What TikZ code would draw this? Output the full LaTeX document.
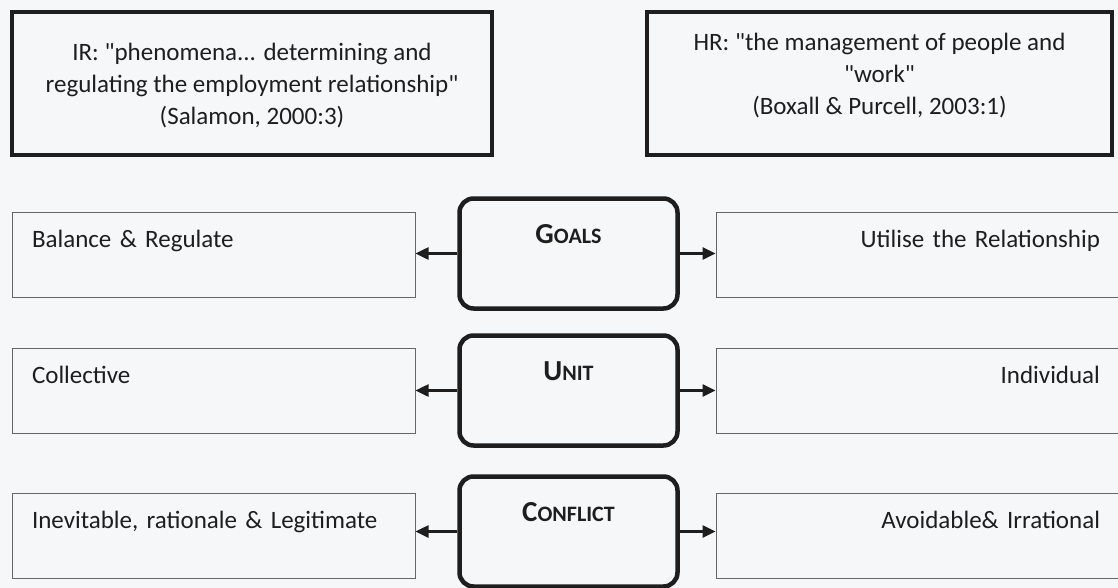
\documentclass[tikz,border=0pt]{standalone}
\usepackage{fontspec}
\setmainfont{Carlito}[Ligatures=TeXOff]
\usetikzlibrary{arrows.meta}
\definecolor{paper}{RGB}{246,247,249}
\definecolor{ink}{RGB}{30,30,30}
\newcommand{\capsword}[2]{{\fontsize{29}{32}\selectfont #1}{\fontsize{22}{24}\selectfont #2}}
\tikzset{
  defbox/.style={draw=ink, line width=4.5pt, inner sep=0pt, minimum height=143pt},
  deftext/.style={align=center, inner sep=0pt, text=ink, font=\fontsize{25}{32}\selectfont},
  themebox/.style={draw=ink, line width=4.5pt, rounded corners=14pt, minimum width=218pt,
    minimum height=110pt, inner sep=0pt, text height=45pt, text depth=65pt, text=ink,
    font=\bfseries},
  leftbox/.style={draw=black!60, line width=1pt, minimum width=403pt, minimum height=85pt,
    text width=363pt, inner xsep=20pt, inner ysep=0pt, text height=35pt, text depth=50pt,
    align=left, text=ink, font=\fontsize{25}{28}\selectfont},
  rightbox/.style={leftbox, text width=365pt, inner xsep=13pt, align=right},
  link/.style={-{Triangle[length=13pt,width=12pt]}, line width=2.5pt, draw=ink}
}
\begin{document}
\begin{tikzpicture}[x=1pt,y=-1pt]
  \fill[paper] (0,0) rectangle (1118,588);
  \useasboundingbox (0,0) rectangle (1118,588);
  % definitions
  \node[defbox, minimum width=480pt] (ir) at (252,83.5) {};
  \node[deftext] (irtext) at ([yshift=-2pt]ir.center)
    {IR: "phenomena... determining and\\regulating the employment relationship"\\(Salamon, 2000:3)};
  \node[defbox, minimum width=465pt] (hr) at (879.5,83.5) {};
  \node[deftext] (hrtext) at ([yshift=8pt]hr.center)
    {HR: "the management of people and\\"work"\\(Boxall \& Purcell, 2003:1)};
  % themes
  \node[themebox] (goals) at (568.5,253.5) {\capsword{G}{OALS}};
  \node[themebox] (unit) at (568.5,390.5) {\capsword{U}{NIT}};
  \node[themebox] (conflict) at (568.5,531.5) {\capsword{C}{ONFLICT}};
  % IR side
  \node[leftbox] (balance) at (213.5,254.5) {Balance \& Regulate};
  \node[leftbox] (collective) at (213.5,391) {Collective};
  \node[leftbox] (inevitable) at (213.5,536) {Inevitable, rationale \& Legitimate};
  % HR side
  \node[rightbox] (utilise) at (917.5,254.5) {Utilise the Relationship};
  \node[rightbox] (individual) at (917.5,391) {Individual};
  \node[rightbox] (avoidable) at (917.5,536) {Avoidable\& Irrational};
  % arrows
  \draw[link] (goals.west) -- (goals.west -| balance.east);
  \draw[link] (goals.east) -- (goals.east -| utilise.west);
  \draw[link] (unit.west) -- (unit.west -| collective.east);
  \draw[link] (unit.east) -- (unit.east -| individual.west);
  \draw[link] (conflict.west) -- (conflict.west -| inevitable.east);
  \draw[link] (conflict.east) -- (conflict.east -| avoidable.west);
\end{tikzpicture}
\end{document}
